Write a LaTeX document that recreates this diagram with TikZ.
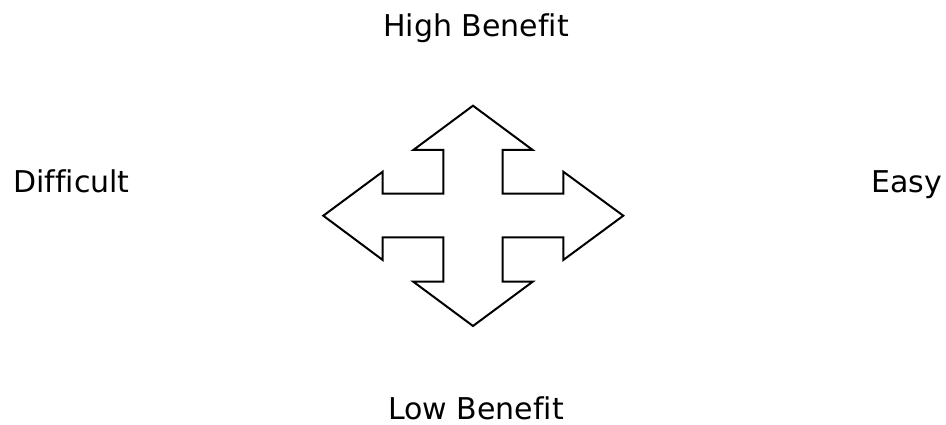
\documentclass[tikz,border=0pt]{standalone}
\usepackage{fontspec}
\setmainfont{DejaVu Sans}[Ligatures=NoCommon]
\usepackage{xcolor}
\usepackage{tikz}
\usetikzlibrary{positioning}

\begin{document}
\begin{tikzpicture}[
		x=1pt,y=-1pt,
		line cap=round,
		line join=miter,
		axislabel/.style={font=\fontsize{30}{36}\selectfont, text=black, inner sep=0pt},
		crossarrow/.style={draw=black, line width=2pt, fill=white}
	]
	
	% Frame
	\useasboundingbox (0,0) rectangle (946,425);
	
	% Labels
	\node[axislabel, anchor=base]      (high) at (476,37)  {High Benefit};
	\node[axislabel, anchor=base]      (low)  at (476,419) {Low Benefit};
	\node[axislabel, anchor=base west] (hard) at (13,193)  {Difficult};
	\node[axislabel, anchor=base east] (easy) at (942,193) {Easy};
	
	% Four-way arrow
	\coordinate (mid) at (473,215.7);
	\draw[crossarrow] (473,105.7) -- (532.7,150) -- (502.7,150) -- (502.7,193.7)
		-- (563.3,193.7) -- (563.3,171.7) -- (623.3,215.7) -- (563.3,260)
		-- (563.3,237.3) -- (502.7,237.3) -- (502.7,281.7) -- (532.7,281.7)
		-- (473,326) -- (413.3,281.7) -- (443.3,281.7) -- (443.3,237.3)
		-- (382.7,237.3) -- (382.7,260) -- (323.3,215.7) -- (382.7,171.7)
		-- (382.7,193.7) -- (443.3,193.7) -- (443.3,150) -- (413.3,150) -- cycle;
	
\end{tikzpicture}
\end{document}
